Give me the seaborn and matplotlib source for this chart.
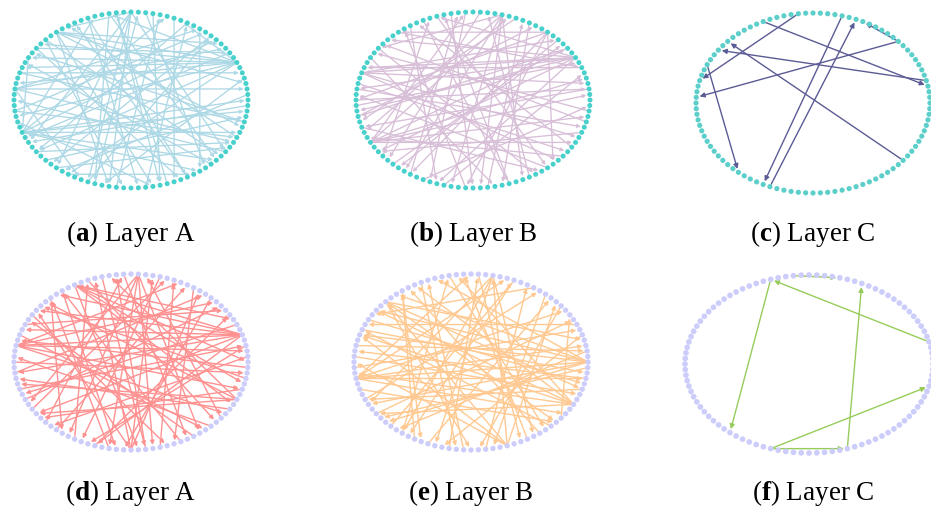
import numpy as np
import pandas as pd
import matplotlib
matplotlib.use("Agg")
import matplotlib.pyplot as plt
from matplotlib.patches import FancyArrowPatch
import seaborn as sns

sns.set_theme(style="white")
plt.rcParams["font.family"] = ["Liberation Serif", "DejaVu Serif"]
plt.rcParams["mathtext.fontset"] = "custom"
plt.rcParams["mathtext.rm"] = "Liberation Serif"
plt.rcParams["mathtext.bf"] = "Liberation Serif:bold"

N_NODES = 100

# Directed edge lists (source, target) for each layer graph
edges_a = [(7, 42), (7, 44), (7, 39), (7, 36), (7, 47), (7, 53), (7, 60), (7, 28), (7, 18), (7, 66),
           (56, 0), (56, 98), (56, 94), (56, 88), (56, 85), (56, 12), (56, 30), (56, 20),
           (42, 56), (19, 81), (15, 85), (22, 79),
           (25, 69), (25, 64), (25, 58), (25, 72), (25, 90), (25, 35),
           (36, 72), (36, 78), (36, 3), (36, 95), (36, 11),
           (48, 92), (48, 2), (48, 10), (48, 15), (48, 68),
           (31, 76), (31, 83), (28, 70), (28, 88),
           (45, 5), (45, 96), (40, 9), (40, 82), (38, 74), (38, 89),
           (52, 93), (52, 14), (54, 78), (60, 92), (62, 97), (64, 91), (66, 84), (69, 13),
           (70, 24), (73, 21), (77, 17), (80, 27), (83, 33), (87, 43), (90, 50), (93, 34),
           (96, 41), (99, 58), (1, 65), (4, 71), (9, 57), (13, 63), (17, 60), (23, 86), (27, 79)]

edges_b = [(8, 45), (8, 48), (8, 44), (8, 52), (8, 38), (8, 60), (8, 30), (8, 70),
           (58, 4), (58, 1), (58, 97), (58, 10), (58, 92), (58, 26), (58, 20),
           (21, 65), (21, 72), (21, 76), (21, 82), (21, 56), (21, 40),
           (14, 66), (14, 74), (14, 50), (14, 36), (14, 87),
           (45, 93), (45, 3), (45, 12), (45, 88),
           (48, 95), (50, 2), (47, 90), (42, 78), (40, 84), (36, 6), (34, 70), (32, 80),
           (30, 86), (28, 75), (26, 69), (24, 62), (19, 54), (17, 79), (12, 64), (10, 53),
           (6, 44), (2, 55), (98, 41), (96, 39), (94, 60), (91, 33), (89, 57), (86, 49),
           (83, 23), (80, 29), (77, 18), (74, 35), (71, 5), (68, 99), (66, 27), (63, 11),
           (61, 31), (55, 85), (53, 16), (51, 7)]

edges_c = [(27, 46), (32, 3), (89, 38), (4, 40), (12, 49), (12, 18), (43, 64), (21, 68), (69, 19)]

edges_d = [(5, 47), (5, 44), (5, 40), (5, 36), (5, 52), (5, 33), (5, 60), (5, 70),
           (47, 2), (47, 95), (47, 12), (47, 18), (47, 90),
           (24, 72), (24, 66), (24, 78), (24, 58), (24, 85),
           (33, 0), (33, 96), (33, 92), (33, 8), (33, 76),
           (75, 22), (75, 15), (75, 40), (75, 30),
           (93, 54), (93, 38), (93, 28), (93, 60),
           (41, 80), (43, 10), (45, 86), (50, 98), (52, 14), (55, 3), (57, 11), (59, 20),
           (62, 26), (64, 17), (67, 31), (70, 9), (72, 37), (77, 27), (79, 19), (82, 35),
           (84, 42), (87, 49), (89, 23), (91, 53), (95, 61), (97, 39), (99, 46), (1, 63),
           (3, 69), (7, 56), (13, 74), (16, 81), (21, 68), (26, 83), (29, 77), (31, 88),
           (35, 73), (37, 65)]

edges_e = [(0, 53), (0, 45), (0, 40), (0, 36), (0, 58), (0, 30), (0, 62),
           (53, 3), (53, 97), (53, 10), (53, 20), (53, 25), (53, 90),
           (92, 40), (92, 33), (92, 45), (92, 60), (92, 27), (92, 52),
           (80, 22), (80, 38), (80, 45), (80, 50), (80, 12),
           (22, 70), (22, 65), (22, 58), (22, 84),
           (38, 88), (38, 95), (38, 4), (38, 75),
           (47, 2), (49, 94), (51, 6), (55, 88), (57, 15), (60, 8), (63, 19), (65, 28),
           (67, 35), (69, 13), (72, 24), (74, 31), (77, 17), (83, 26), (85, 34), (87, 44),
           (89, 9), (95, 57), (97, 48), (99, 61), (2, 64), (5, 71), (7, 43), (11, 76),
           (14, 78), (16, 41), (19, 66), (24, 82), (28, 86), (32, 73), (35, 68), (42, 96),
           (44, 98)]

edges_f = [(27, 21), (4, 30), (30, 64), (80, 18), (70, 80), (70, 96)]

panel_letters = ["a", "b", "c", "d", "e", "f"]
panel_layers = ["Layer A", "Layer B", "Layer C", "Layer A", "Layer B", "Layer C"]
panel_edges = [edges_a, edges_b, edges_c, edges_d, edges_e, edges_f]
edge_colors = ["#add8e6", "#d8bfd8", "#5b5b95", "#ff9191", "#ffc991", "#97cc5c"]
node_colors = ["#48d1cc", "#48d1cc", "#5ccfcb", "#cdcdfb", "#cdcdfb", "#cdcdfb"]

# Panel placement in pixels: centre x, centre y (from top), x radius, y radius
W, H = 931, 511
geometry = [(131, 100, 117, 88), (473, 100, 117, 88), (813, 103, 117, 90),
            (131, 362, 117, 88), (471, 362, 117, 88), (809, 364, 124, 89)]
caption_y = [234, 234, 234, 493, 493, 493]
caption_x = [131, 473, 813, 131, 471, 813]
node_size = [13, 13, 14, 15, 15, 17]
edge_width = [0.95, 0.95, 1.0, 1.0, 1.0, 1.0]
head_scale = [5, 5, 7, 6, 6, 7]

# circular layout: node k at angle 2*pi*k/N, counter-clockwise from the right
theta = 2 * np.pi * np.arange(N_NODES) / N_NODES
layout = pd.DataFrame({"node": np.arange(N_NODES), "x": np.cos(theta), "y": np.sin(theta)})

fig = plt.figure(figsize=(W / 100, H / 100), dpi=100)

for i in range(6):
    cx, cy, rx, ry = geometry[i]
    ax = fig.add_axes([(cx - rx) / W, (H - (cy + ry)) / H, 2 * rx / W, 2 * ry / H])

    for s, t in panel_edges[i]:
        arrow = FancyArrowPatch((layout.x[s], layout.y[s]), (layout.x[t], layout.y[t]),
                                arrowstyle="-|>", mutation_scale=head_scale[i],
                                shrinkA=2, shrinkB=2.5, lw=edge_width[i],
                                color=edge_colors[i], zorder=1, clip_on=False)
        ax.add_patch(arrow)

    sns.scatterplot(data=layout, x="x", y="y", ax=ax, s=node_size[i],
                    color=node_colors[i], edgecolor="none", linewidth=0,
                    zorder=2, clip_on=False, legend=False)
    ax.set_xlim(-1, 1)
    ax.set_ylim(-1, 1)
    ax.set_axis_off()

    fig.text(caption_x[i] / W, 1 - caption_y[i] / H,
             r"($\mathbf{" + panel_letters[i] + r"}$) " + panel_layers[i],
             ha="center", va="center", fontsize=19.5, color="black")

fig.savefig("out.png", dpi=100)
